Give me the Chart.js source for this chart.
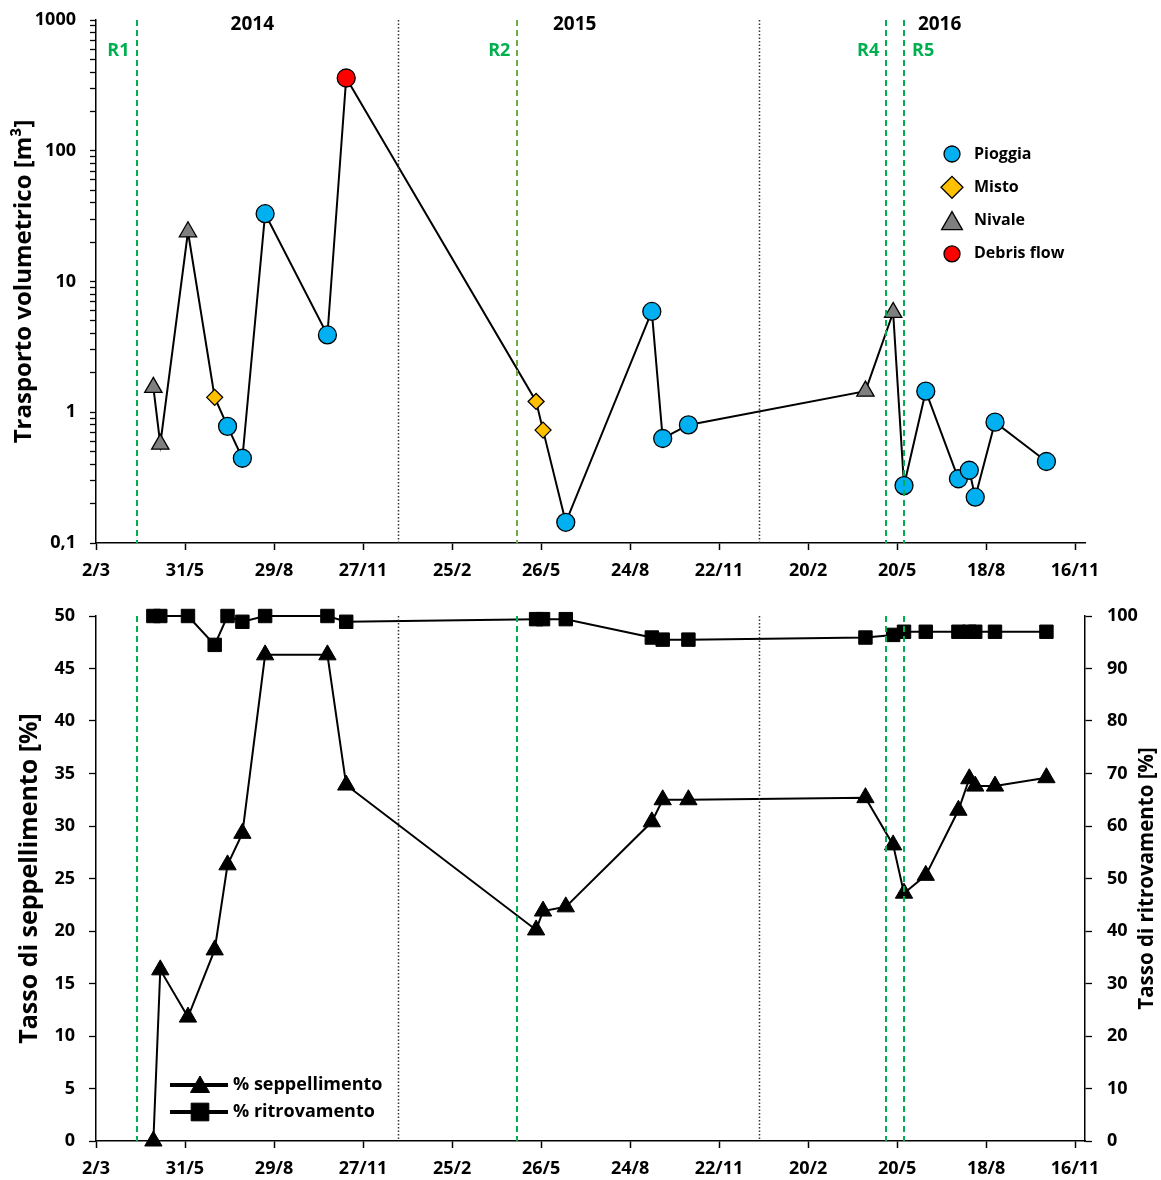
<!DOCTYPE html>
<html>
<head>
<meta charset="utf-8">
<title>Trasporto volumetrico e tasso di seppellimento</title>
<script src="https://cdn.jsdelivr.net/npm/chart.js@4.4.1/dist/chart.umd.min.js"></script>
<style>
  body { margin: 0; background: #fff; }
  #top-chart { position: absolute; left: 0; top: 0; }
  #bottom-chart { position: absolute; left: 0; top: 580px; }
</style>
</head>
<body>
<canvas id="top-chart" width="1161" height="580"></canvas>
<canvas id="bottom-chart" width="1161" height="600"></canvas>
<script>
// Days are counted from 2/3/2014 (first tick of the axis)
const eventDays = [58, 65, 93, 120, 133, 148, 171, 234, 253, 445, 452, 475, 562, 573, 599, 778, 806, 817, 839, 872, 883, 889, 909, 961];
const eventTypes = ['Nivale', 'Nivale', 'Nivale', 'Misto', 'Pioggia', 'Pioggia', 'Pioggia', 'Pioggia', 'Debris flow',
    'Misto', 'Misto', 'Pioggia', 'Pioggia', 'Pioggia', 'Pioggia', 'Nivale', 'Nivale',
    'Pioggia', 'Pioggia', 'Pioggia', 'Pioggia', 'Pioggia', 'Pioggia', 'Pioggia'];
const volume = [1.55, 0.57, 24, 1.3, 0.78, 0.445, 33, 3.9, 360, 1.21, 0.73, 0.144, 5.9, 0.63, 0.8, 1.45, 5.8, 0.275, 1.45, 0.31, 0.36, 0.224, 0.84, 0.42];
const burial = [0, 16.3, 11.8, 18.2, 26.3, 29.3, 46.3, 46.3, 33.9, 20.1, 21.9, 22.3, 30.4, 32.5, 32.5, 32.7, 28.2, 23.6, 25.3, 31.5, 34.5, 33.8, 33.8, 34.6];
const recovery = [100, 100, 100, 94.5, 100, 98.9, 100, 100, 98.9, 99.4, 99.4, 99.4, 95.9, 95.5, 95.5, 95.9, 96.4, 97, 97, 97, 97, 97, 97, 97];

const typeNames = ['Pioggia', 'Misto', 'Nivale', 'Debris flow'];

// x axis ticks every 90 days
const xTickDays = [0, 90, 180, 270, 360, 450, 540, 630, 720, 810, 900, 990];
const xTickLabels = ['2/3', '31/5', '29/8', '27/11', '25/2', '26/5', '24/8', '22/11', '20/2', '20/5', '18/8', '16/11'];
const yTopDecades = [0.1, 1, 10, 100, 1000];
const yTopLabels = ['0,1', '1', '10', '100', '1000'];

// year boundaries and survey (rilievo) dates
const yearStartDays = [305, 670];
const yearNames = ['2014', '2015', '2016'];
const yearLabelDays = [158, 484, 853];
const surveyNames = ['R1', 'R2', 'R4', 'R5'];
const surveyDays = [41, 426, 799, 817];

const FONT = "'Open Sans', 'DejaVu Sans', sans-serif";
const GREEN = '#00B050';

const typeStyle = {
    'Pioggia': { shape: 'circle', color: '#00B0F0', radius: 9, legendRadius: 8 },
    'Misto': { shape: 'rectRot', color: '#FFC000', radius: 8, legendRadius: 11 },
    'Nivale': { shape: 'triangle', color: '#7F7F7F', radius: 10, legendRadius: 12 },
    'Debris flow': { shape: 'circle', color: '#FF0000', radius: 9, legendRadius: 8 }
};

// vertical reference lines, labels and legends
const markersPlugin = {
    id: 'markers',
    afterDatasetsDraw(chart, args, opts) {
        const { ctx, chartArea, scales } = chart;
        const x = scales.x;
        ctx.save();

        // year boundaries (dotted)
        ctx.strokeStyle = '#333';
        ctx.lineWidth = 1.5;
        ctx.setLineDash([1.5, 2]);
        yearStartDays.forEach(d => {
            const px = Math.round(x.getPixelForValue(d)) + 0.5;
            ctx.beginPath();
            ctx.moveTo(px, chartArea.top);
            ctx.lineTo(px, chartArea.bottom);
            ctx.stroke();
        });

        // surveys (green dashed)
        ctx.lineWidth = 2;
        ctx.setLineDash([6, 4]);
        surveyDays.forEach((d, i) => {
            const px = Math.round(x.getPixelForValue(d));
            ctx.strokeStyle = opts.surveyColors[i];
            ctx.beginPath();
            ctx.moveTo(px, chartArea.top);
            ctx.lineTo(px, chartArea.bottom);
            ctx.stroke();
        });
        ctx.setLineDash([]);

        if (opts.labels) {
            ctx.textBaseline = 'middle';
            ctx.fillStyle = '#000';
            ctx.font = 'bold 19px ' + FONT;
            ctx.textAlign = 'center';
            yearNames.forEach((t, i) => ctx.fillText(t, x.getPixelForValue(yearLabelDays[i]), 25));

            ctx.fillStyle = GREEN;
            ctx.font = 'bold 18px ' + FONT;
            surveyNames.forEach((t, i) => {
                const px = x.getPixelForValue(surveyDays[i]);
                if (i === surveyNames.length - 1) {
                    ctx.textAlign = 'left';
                    ctx.fillText(t, px + 8, 51);
                } else {
                    ctx.textAlign = 'right';
                    ctx.fillText(t, px - 7, 51);
                }
            });
        }

        if (opts.typeLegend) {
            ctx.textAlign = 'left';
            ctx.textBaseline = 'middle';
            ctx.font = 'bold 16px ' + FONT;
            typeNames.forEach((name, i) => {
                const st = typeStyle[name];
                const y = 154 + i * 33.3;
                const my = st.shape === 'triangle' ? y + 3 : y;
                ctx.fillStyle = st.color;
                ctx.strokeStyle = '#000';
                ctx.lineWidth = 1.3;
                Chart.helpers.drawPoint(ctx, { pointStyle: st.shape, radius: st.legendRadius, rotation: 0, borderWidth: 1.3 }, 952, my);
                ctx.fillStyle = '#000';
                ctx.fillText(name, 974, y);
            });
        }

        if (opts.seriesLegend) {
            const items = [
                { label: '% seppellimento', shape: 'triangle', radius: 11 },
                { label: '% ritrovamento', shape: 'rect', radius: 12.5 }
            ];
            ctx.font = 'bold 18px ' + FONT;
            ctx.textAlign = 'left';
            ctx.textBaseline = 'middle';
            items.forEach((it, i) => {
                const y = 505 + i * 27;
                ctx.strokeStyle = '#000';
                ctx.lineWidth = 4;
                ctx.beginPath();
                ctx.moveTo(170, y);
                ctx.lineTo(228, y);
                ctx.stroke();
                ctx.fillStyle = '#000';
                ctx.lineWidth = 1;
                Chart.helpers.drawPoint(ctx, { pointStyle: it.shape, radius: it.radius, rotation: 0, borderWidth: 1 }, 200, it.shape === 'triangle' ? y + 2 : y);
                ctx.fillText(it.label, 233, y);
            });
        }
        ctx.restore();
    },
    afterDraw(chart, args, opts) {
        if (!opts.rightTitle) return;
        const { ctx, chartArea } = chart;
        ctx.save();
        ctx.translate(1147, (chartArea.top + chartArea.bottom) / 2);
        ctx.rotate(-Math.PI / 2);
        ctx.font = 'bold 20.5px ' + FONT;
        ctx.fillStyle = '#000';
        ctx.textAlign = 'center';
        ctx.textBaseline = 'middle';
        ctx.fillText(opts.rightTitle, 0, 0);
        ctx.restore();
    }
};

const tickFont = { family: FONT, size: 18, weight: 'bold' };

// fixed axis width, no extra vertical padding from the labels
function fixWidth(w) {
    return s => {
        s.width = w;
        s.paddingTop = 0;
        s.paddingBottom = 0;
    };
}

function xScale(height) {
    return {
        type: 'linear',
        min: 0,
        max: 1000,
        afterBuildTicks: s => { s.ticks = xTickDays.map(v => ({ value: v })); },
        afterFit: s => { s.height = height; },
        ticks: {
            autoSkip: false,
            maxRotation: 0,
            padding: 10,
            color: '#000',
            font: tickFont,
            callback: (v, i) => xTickLabels[i]
        },
        grid: { drawOnChartArea: false, tickLength: 7, color: '#000', tickWidth: 1.5 },
        border: { color: '#000', width: 1.5 }
    };
}

// Top chart: transport volume (log scale)
const logTicks = [];
yTopDecades.slice(0, -1).forEach(d => {
    for (let m = 1; m <= 9; m++) logTicks.push(+(m * d).toPrecision(6));
});
logTicks.push(yTopDecades[yTopDecades.length - 1]);

new Chart(document.getElementById('top-chart'), {
    type: 'line',
    data: {
        datasets: [{
            data: eventDays.map((d, i) => ({ x: d, y: volume[i] })),
            borderColor: '#000',
            borderWidth: 2,
            tension: 0,
            clip: false,
            pointStyle: eventTypes.map(t => typeStyle[t].shape),
            pointRadius: eventTypes.map(t => typeStyle[t].radius),
            pointBackgroundColor: eventTypes.map(t => typeStyle[t].color),
            pointBorderColor: '#000',
            pointBorderWidth: 1.3
        }]
    },
    options: {
        responsive: false,
        animation: false,
        layout: { padding: { top: 20, right: 76, left: 0, bottom: 0 } },
        plugins: {
            legend: { display: false },
            tooltip: { enabled: false },
            markers: {
                surveyColors: [GREEN, '#70AD47', GREEN, GREEN],
                labels: true,
                typeLegend: true
            }
        },
        scales: {
            x: xScale(37),
            y: {
                type: 'logarithmic',
                min: 0.1,
                max: 1000,
                afterBuildTicks: s => { s.ticks = logTicks.map(v => ({ value: v })); },
                afterFit: fixWidth(96),
                ticks: {
                    autoSkip: false,
                    padding: 14,
                    color: '#000',
                    font: tickFont,
                    callback: v => {
                        const k = yTopDecades.indexOf(v);
                        return k >= 0 ? yTopLabels[k] : '';
                    }
                },
                grid: { drawOnChartArea: false, tickLength: 6, color: '#000', tickWidth: 1.3 },
                border: { color: '#000', width: 1.5 },
                title: {
                    display: true,
                    text: 'Trasporto volumetrico [m³]',
                    color: '#000',
                    font: { family: FONT, size: 24, weight: 'bold' },
                    padding: { top: 10, bottom: 0 }
                }
            }
        }
    },
    plugins: [markersPlugin]
});

// Bottom chart: burial and recovery rates
new Chart(document.getElementById('bottom-chart'), {
    type: 'line',
    data: {
        datasets: [{
            label: '% seppellimento',
            yAxisID: 'y',
            data: eventDays.map((d, i) => ({ x: d, y: burial[i] })),
            borderColor: '#000',
            borderWidth: 2,
            tension: 0,
            clip: false,
            pointStyle: 'triangle',
            pointRadius: 10,
            pointBackgroundColor: '#000',
            pointBorderColor: '#000',
            pointBorderWidth: 1
        }, {
            label: '% ritrovamento',
            yAxisID: 'y1',
            data: eventDays.map((d, i) => ({ x: d, y: recovery[i] })),
            borderColor: '#000',
            borderWidth: 2,
            tension: 0,
            clip: false,
            pointStyle: 'rect',
            pointRadius: 9.5,
            pointBackgroundColor: '#000',
            pointBorderColor: '#000',
            pointBorderWidth: 1
        }]
    },
    options: {
        responsive: false,
        animation: false,
        layout: { padding: { top: 36, right: 0, left: 0, bottom: 0 } },
        plugins: {
            legend: { display: false },
            tooltip: { enabled: false },
            markers: {
                surveyColors: [GREEN, GREEN, GREEN, GREEN],
                seriesLegend: true,
                rightTitle: 'Tasso di ritrovamento [%]'
            }
        },
        scales: {
            x: xScale(39),
            y: {
                position: 'left',
                min: 0,
                max: 50,
                afterFit: fixWidth(96),
                ticks: { stepSize: 5, padding: 14, color: '#000', font: tickFont },
                grid: { drawOnChartArea: false, tickLength: 7, color: '#000', tickWidth: 1.3 },
                border: { color: '#000', width: 1.5 },
                title: {
                    display: true,
                    text: 'Tasso di seppellimento [%]',
                    color: '#000',
                    font: { family: FONT, size: 25, weight: 'bold' },
                    padding: { top: 15, bottom: 0 }
                }
            },
            y1: {
                position: 'right',
                min: 0,
                max: 100,
                afterFit: fixWidth(76),
                ticks: { stepSize: 10, padding: 15, color: '#000', font: tickFont },
                grid: { drawOnChartArea: false, tickLength: 7, color: '#000', tickWidth: 1.3 },
                border: { color: '#000', width: 1.5 }
            }
        }
    },
    plugins: [markersPlugin]
});
</script>
</body>
</html>
